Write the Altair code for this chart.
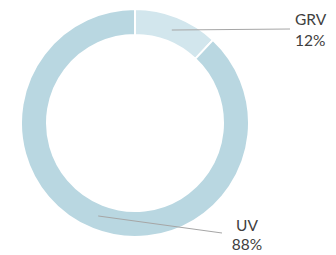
import math
import altair as alt
import pandas as pd

categories = ["GRV", "UV"]
values = [12, 88]
colors = ["#d2e6ed", "#b9d7e1"]

# layout (chart pixel coordinates)
CX, CY = 127, 115
R_OUT, R_IN, R_LEAD = 114, 88, 100
label_anchor = {"GRV": (287, 282, 21, "left"), "UV": (239, 214, 225, "center")}

total = sum(values)
rows = []
cum = 0
for c, v in zip(categories, values):
    mid = (cum + v / 2) / total * 2 * math.pi
    cum += v
    lx, ex, ey, al = label_anchor[c]
    rows.append({
        "cat": c, "val": v, "pct": f"{round(v / total * 100)}%",
        "sx": CX + R_LEAD * math.sin(mid), "sy": CY - R_LEAD * math.cos(mid),
        "ex": ex, "ey": ey, "lx": lx, "align": al,
    })
df = pd.DataFrame(rows)

base = alt.Chart(df)

arc = base.mark_arc(x=CX, y=CY, outerRadius=R_OUT, innerRadius=R_IN,
                    stroke="white", strokeWidth=2).encode(
    theta=alt.Theta("val:Q", stack=True),
    color=alt.Color("cat:N", scale=alt.Scale(domain=categories, range=colors), legend=None),
    order=alt.Order("cat:N", sort="ascending"),
)

lead = base.mark_rule(color="#a6a6a6", strokeWidth=1).encode(
    x=alt.X("sx:Q", scale=None), y=alt.Y("sy:Q", scale=None),
    x2="ex:Q", y2="ey:Q",
)

font = "Lato"
fs = 15.5
tc = "#404040"
grv = alt.Chart(df[df.cat == "GRV"])
uv = alt.Chart(df[df.cat == "UV"])

t1 = grv.mark_text(align="left", baseline="alphabetic", font=font, fontSize=fs, color=tc).encode(
    x=alt.X("lx:Q", scale=None), y=alt.value(16.5), text="cat:N")
t2 = grv.mark_text(align="left", baseline="alphabetic", font=font, fontSize=fs, color=tc).encode(
    x=alt.X("lx:Q", scale=None), y=alt.value(37.5), text="pct:N")
t3 = uv.mark_text(align="center", baseline="alphabetic", font=font, fontSize=fs, color=tc).encode(
    x=alt.X("lx:Q", scale=None), y=alt.value(223), text="cat:N")
t4 = uv.mark_text(align="center", baseline="alphabetic", font=font, fontSize=fs, color=tc).encode(
    x=alt.X("lx:Q", scale=None), y=alt.value(242), text="pct:N")

chart = alt.layer(arc, lead, t1, t2, t3, t4).properties(
    width=320, height=247, padding=0,
    autosize=alt.AutoSizeParams(type="none"),
).configure_view(stroke=None)

chart.save("out.html", embed_options={"renderer": "svg", "actions": False})
